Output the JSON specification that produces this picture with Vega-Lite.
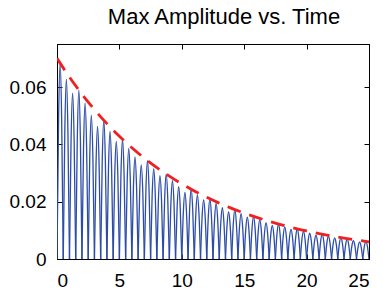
{
  "$schema": "https://vega.github.io/schema/vega-lite/v6.json",
  "autosize": "none",
  "width": 312,
  "height": 215,
  "padding": {"left": 57, "top": 44, "right": 14, "bottom": 32},
  "background": "white",
  "title": {"text": "Max Amplitude vs. Time", "font": "Liberation Sans", "fontSize": 22, "fontWeight": "normal", "color": "black", "anchor": "middle", "offset": 15, "dx": 11},
  "datasets": {
    "osc": [
      {"k":0,"t":0,"a":0},{"k":0,"t":0.125,"a":0.04829},{"k":0,"t":0.25,"a":0.0683},{"k":0,"t":0.375,"a":0.04829},{"k":0,"t":0.5,"a":0},
      {"k":1,"t":0.5,"a":0},{"k":1,"t":0.625,"a":0.04436},{"k":1,"t":0.75,"a":0.06275},{"k":1,"t":0.875,"a":0.04436},{"k":1,"t":1,"a":0},
      {"k":2,"t":1,"a":0},{"k":2,"t":1.125,"a":0.04092},{"k":2,"t":1.25,"a":0.05788},{"k":2,"t":1.375,"a":0.04092},{"k":2,"t":1.5,"a":0},
      {"k":3,"t":1.5,"a":0},{"k":3,"t":1.625,"a":0.04167},{"k":3,"t":1.75,"a":0.05894},{"k":3,"t":1.875,"a":0.04167},{"k":3,"t":2,"a":0},
      {"k":4,"t":2,"a":0},{"k":4,"t":2.125,"a":0.03848},{"k":4,"t":2.25,"a":0.05443},{"k":4,"t":2.375,"a":0.03848},{"k":4,"t":2.5,"a":0},
      {"k":5,"t":2.5,"a":0},{"k":5,"t":2.625,"a":0.0355},{"k":5,"t":2.75,"a":0.05021},{"k":5,"t":2.875,"a":0.0355},{"k":5,"t":3,"a":0},
      {"k":6,"t":3,"a":0},{"k":6,"t":3.125,"a":0.03272},{"k":6,"t":3.25,"a":0.04628},{"k":6,"t":3.375,"a":0.03272},{"k":6,"t":3.5,"a":0},
      {"k":7,"t":3.5,"a":0},{"k":7,"t":3.625,"a":0.03423},{"k":7,"t":3.75,"a":0.04842},{"k":7,"t":3.875,"a":0.03423},{"k":7,"t":4,"a":0},
      {"k":8,"t":4,"a":0},{"k":8,"t":4.125,"a":0.03145},{"k":8,"t":4.25,"a":0.04448},{"k":8,"t":4.375,"a":0.03145},{"k":8,"t":4.5,"a":0},
      {"k":9,"t":4.5,"a":0},{"k":9,"t":4.625,"a":0.02901},{"k":9,"t":4.75,"a":0.04103},{"k":9,"t":4.875,"a":0.02901},{"k":9,"t":5,"a":0},
      {"k":10,"t":5,"a":0},{"k":10,"t":5.125,"a":0.02954},{"k":10,"t":5.25,"a":0.04178},{"k":10,"t":5.375,"a":0.02954},{"k":10,"t":5.5,"a":0},
      {"k":11,"t":5.5,"a":0},{"k":11,"t":5.625,"a":0.02728},{"k":11,"t":5.75,"a":0.03858},{"k":11,"t":5.875,"a":0.02728},{"k":11,"t":6,"a":0},
      {"k":12,"t":6,"a":0},{"k":12,"t":6.125,"a":0.02516},{"k":12,"t":6.25,"a":0.03559},{"k":12,"t":6.375,"a":0.02516},{"k":12,"t":6.5,"a":0},
      {"k":13,"t":6.5,"a":0},{"k":13,"t":6.625,"a":0.02319},{"k":13,"t":6.75,"a":0.0328},{"k":13,"t":6.875,"a":0.02319},{"k":13,"t":7,"a":0},
      {"k":14,"t":7,"a":0},{"k":14,"t":7.125,"a":0.02426},{"k":14,"t":7.25,"a":0.03432},{"k":14,"t":7.375,"a":0.02426},{"k":14,"t":7.5,"a":0},
      {"k":15,"t":7.5,"a":0},{"k":15,"t":7.625,"a":0.02229},{"k":15,"t":7.75,"a":0.03153},{"k":15,"t":7.875,"a":0.02229},{"k":15,"t":8,"a":0},
      {"k":16,"t":8,"a":0},{"k":16,"t":8.125,"a":0.02056},{"k":16,"t":8.25,"a":0.02908},{"k":16,"t":8.375,"a":0.02056},{"k":16,"t":8.5,"a":0},
      {"k":17,"t":8.5,"a":0},{"k":17,"t":8.625,"a":0.02093},{"k":17,"t":8.75,"a":0.02961},{"k":17,"t":8.875,"a":0.02093},{"k":17,"t":9,"a":0},
      {"k":18,"t":9,"a":0},{"k":18,"t":9.125,"a":0.01934},{"k":18,"t":9.25,"a":0.02735},{"k":18,"t":9.375,"a":0.01934},{"k":18,"t":9.5,"a":0},
      {"k":19,"t":9.5,"a":0},{"k":19,"t":9.625,"a":0.01784},{"k":19,"t":9.75,"a":0.02523},{"k":19,"t":9.875,"a":0.01784},{"k":19,"t":10,"a":0},
      {"k":20,"t":10,"a":0},{"k":20,"t":10.125,"a":0.01644},{"k":20,"t":10.25,"a":0.02325},{"k":20,"t":10.375,"a":0.01644},{"k":20,"t":10.5,"a":0},
      {"k":21,"t":10.5,"a":0},{"k":21,"t":10.625,"a":0.0172},{"k":21,"t":10.75,"a":0.02433},{"k":21,"t":10.875,"a":0.0172},{"k":21,"t":11,"a":0},
      {"k":22,"t":11,"a":0},{"k":22,"t":11.125,"a":0.0158},{"k":22,"t":11.25,"a":0.02235},{"k":22,"t":11.375,"a":0.0158},{"k":22,"t":11.5,"a":0},
      {"k":23,"t":11.5,"a":0},{"k":23,"t":11.625,"a":0.01457},{"k":23,"t":11.75,"a":0.02061},{"k":23,"t":11.875,"a":0.01457},{"k":23,"t":12,"a":0},
      {"k":24,"t":12,"a":0},{"k":24,"t":12.125,"a":0.01484},{"k":24,"t":12.25,"a":0.02099},{"k":24,"t":12.375,"a":0.01484},{"k":24,"t":12.5,"a":0},
      {"k":25,"t":12.5,"a":0},{"k":25,"t":12.625,"a":0.0137},{"k":25,"t":12.75,"a":0.01938},{"k":25,"t":12.875,"a":0.0137},{"k":25,"t":13,"a":0},
      {"k":26,"t":13,"a":0},{"k":26,"t":13.125,"a":0.01264},{"k":26,"t":13.25,"a":0.01788},{"k":26,"t":13.375,"a":0.01264},{"k":26,"t":13.5,"a":0},
      {"k":27,"t":13.5,"a":0},{"k":27,"t":13.625,"a":0.01165},{"k":27,"t":13.75,"a":0.01648},{"k":27,"t":13.875,"a":0.01165},{"k":27,"t":14,"a":0},
      {"k":28,"t":14,"a":0},{"k":28,"t":14.125,"a":0.0122},{"k":28,"t":14.25,"a":0.01725},{"k":28,"t":14.375,"a":0.0122},{"k":28,"t":14.5,"a":0},
      {"k":29,"t":14.5,"a":0},{"k":29,"t":14.625,"a":0.0112},{"k":29,"t":14.75,"a":0.01584},{"k":29,"t":14.875,"a":0.0112},{"k":29,"t":15,"a":0},
      {"k":30,"t":15,"a":0},{"k":30,"t":15.125,"a":0.01033},{"k":30,"t":15.25,"a":0.01461},{"k":30,"t":15.375,"a":0.01033},{"k":30,"t":15.5,"a":0},
      {"k":31,"t":15.5,"a":0},{"k":31,"t":15.625,"a":0.01052},{"k":31,"t":15.75,"a":0.01488},{"k":31,"t":15.875,"a":0.01052},{"k":31,"t":16,"a":0},
      {"k":32,"t":16,"a":0},{"k":32,"t":16.125,"a":0.00971},{"k":32,"t":16.25,"a":0.01374},{"k":32,"t":16.375,"a":0.00971},{"k":32,"t":16.5,"a":0},
      {"k":33,"t":16.5,"a":0},{"k":33,"t":16.625,"a":0.00896},{"k":33,"t":16.75,"a":0.01268},{"k":33,"t":16.875,"a":0.00896},{"k":33,"t":17,"a":0},
      {"k":34,"t":17,"a":0},{"k":34,"t":17.125,"a":0.00826},{"k":34,"t":17.25,"a":0.01169},{"k":34,"t":17.375,"a":0.00826},{"k":34,"t":17.5,"a":0},
      {"k":35,"t":17.5,"a":0},{"k":35,"t":17.625,"a":0.00865},{"k":35,"t":17.75,"a":0.01223},{"k":35,"t":17.875,"a":0.00865},{"k":35,"t":18,"a":0},
      {"k":36,"t":18,"a":0},{"k":36,"t":18.125,"a":0.00794},{"k":36,"t":18.25,"a":0.01123},{"k":36,"t":18.375,"a":0.00794},{"k":36,"t":18.5,"a":0},
      {"k":37,"t":18.5,"a":0},{"k":37,"t":18.625,"a":0.00732},{"k":37,"t":18.75,"a":0.01036},{"k":37,"t":18.875,"a":0.00732},{"k":37,"t":19,"a":0},
      {"k":38,"t":19,"a":0},{"k":38,"t":19.125,"a":0.00746},{"k":38,"t":19.25,"a":0.01055},{"k":38,"t":19.375,"a":0.00746},{"k":38,"t":19.5,"a":0},
      {"k":39,"t":19.5,"a":0},{"k":39,"t":19.625,"a":0.00689},{"k":39,"t":19.75,"a":0.00974},{"k":39,"t":19.875,"a":0.00689},{"k":39,"t":20,"a":0},
      {"k":40,"t":20,"a":0},{"k":40,"t":20.125,"a":0.00636},{"k":40,"t":20.25,"a":0.00899},{"k":40,"t":20.375,"a":0.00636},{"k":40,"t":20.5,"a":0},
      {"k":41,"t":20.5,"a":0},{"k":41,"t":20.625,"a":0.00585},{"k":41,"t":20.75,"a":0.00828},{"k":41,"t":20.875,"a":0.00585},{"k":41,"t":21,"a":0},
      {"k":42,"t":21,"a":0},{"k":42,"t":21.125,"a":0.00613},{"k":42,"t":21.25,"a":0.00867},{"k":42,"t":21.375,"a":0.00613},{"k":42,"t":21.5,"a":0},
      {"k":43,"t":21.5,"a":0},{"k":43,"t":21.625,"a":0.00563},{"k":43,"t":21.75,"a":0.00796},{"k":43,"t":21.875,"a":0.00563},{"k":43,"t":22,"a":0},
      {"k":44,"t":22,"a":0},{"k":44,"t":22.125,"a":0.00519},{"k":44,"t":22.25,"a":0.00734},{"k":44,"t":22.375,"a":0.00519},{"k":44,"t":22.5,"a":0},
      {"k":45,"t":22.5,"a":0},{"k":45,"t":22.625,"a":0.00529},{"k":45,"t":22.75,"a":0.00748},{"k":45,"t":22.875,"a":0.00529},{"k":45,"t":23,"a":0},
      {"k":46,"t":23,"a":0},{"k":46,"t":23.125,"a":0.00489},{"k":46,"t":23.25,"a":0.00691},{"k":46,"t":23.375,"a":0.00489},{"k":46,"t":23.5,"a":0},
      {"k":47,"t":23.5,"a":0},{"k":47,"t":23.625,"a":0.0045},{"k":47,"t":23.75,"a":0.00637},{"k":47,"t":23.875,"a":0.0045},{"k":47,"t":24,"a":0},
      {"k":48,"t":24,"a":0},{"k":48,"t":24.125,"a":0.00415},{"k":48,"t":24.25,"a":0.00587},{"k":48,"t":24.375,"a":0.00415},{"k":48,"t":24.5,"a":0},
      {"k":49,"t":24.5,"a":0},{"k":49,"t":24.625,"a":0.00434},{"k":49,"t":24.75,"a":0.00614},{"k":49,"t":24.875,"a":0.00434},{"k":49,"t":25,"a":0}
    ],
    "env": [
      {"t":0,"a":0.07},{"t":1,"a":0.063445},{"t":2,"a":0.057503},{"t":3,"a":0.052118},
      {"t":4,"a":0.047237},{"t":5,"a":0.042813},{"t":6,"a":0.038804},{"t":7,"a":0.03517},
      {"t":8,"a":0.031876},{"t":9,"a":0.028891},{"t":10,"a":0.026185},{"t":11,"a":0.023733},
      {"t":12,"a":0.02151},{"t":13,"a":0.019496},{"t":14,"a":0.01767},{"t":15,"a":0.016015},
      {"t":16,"a":0.014515},{"t":17,"a":0.013156},{"t":18,"a":0.011924},{"t":19,"a":0.010807},
      {"t":20,"a":0.009795},{"t":21,"a":0.008878},{"t":22,"a":0.008046},{"t":23,"a":0.007293},
      {"t":24,"a":0.00661},{"t":25,"a":0.005991}
    ]
  },
  "layer": [
    {
      "data": {"name": "osc"},
      "mark": {"type": "line", "color": "#2c4ca8", "strokeWidth": 1.3, "interpolate": "monotone", "clip": true},
      "encoding": {
        "detail": {"field": "k", "type": "nominal"},
        "x": {"field": "t", "type": "quantitative", "scale": {"domain": [0, 25], "nice": false, "zero": false},
              "axis": {"orient": "bottom", "values": [0,5,10,15,20,25], "format": "d", "title": null, "grid": false, "tickSize": -5, "labelPadding": 17}},
        "y": {"field": "a", "type": "quantitative", "scale": {"domain": [0, 0.075], "nice": false},
              "axis": {"orient": "left", "values": [0,0.02,0.04,0.06], "format": "~g", "title": null, "grid": false, "tickSize": -5, "labelPadding": 16}}
      }
    },
    {
      "data": {"name": "env"},
      "mark": {"type": "line", "color": "#f02020", "strokeWidth": 2.8, "strokeDash": [14, 9], "interpolate": "monotone", "clip": true},
      "encoding": {
        "x": {"field": "t", "type": "quantitative", "scale": {"domain": [0, 25], "nice": false, "zero": false},
              "axis": {"orient": "top", "values": [0,5,10,15,20,25], "labels": false, "title": null, "grid": false, "tickSize": -5}},
        "y": {"field": "a", "type": "quantitative", "scale": {"domain": [0, 0.075], "nice": false},
              "axis": {"orient": "right", "values": [0,0.02,0.04,0.06], "labels": false, "title": null, "grid": false, "tickSize": -5}}
      }
    }
  ],
  "resolve": {"axis": {"x": "independent", "y": "independent"}},
  "config": {
    "view": {"stroke": "black", "strokeWidth": 1},
    "axis": {"domainColor": "black", "tickColor": "black", "labelColor": "black", "labelFont": "Liberation Sans", "labelFontSize": 19, "domainWidth": 1, "tickWidth": 1}
  }
}
